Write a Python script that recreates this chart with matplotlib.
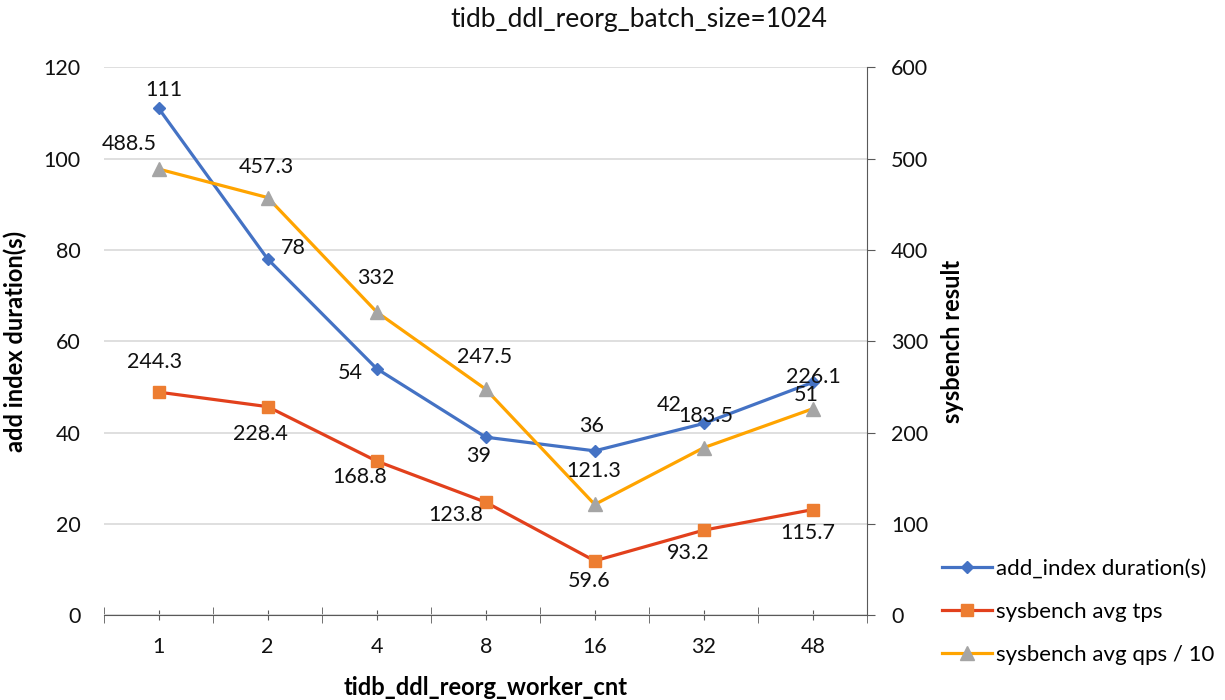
import matplotlib.pyplot as plt
import numpy as np

plt.rcParams['font.family'] = ['Lato', 'DejaVu Sans']

# worker counts and measured results
workers = ['1', '2', '4', '8', '16', '32', '48']
add_index_duration = [111, 78, 54, 39, 36, 42, 51]
avg_tps = [244.3, 228.4, 168.8, 123.8, 59.6, 93.2, 115.7]
avg_qps_div10 = [488.5, 457.3, 332, 247.5, 121.3, 183.5, 226.1]

# label offsets (pixels) for each point
dur_off = [(5, 18), (26, 11), (-26, -4), (-7, -19), (-3, 25), (-35, 18), (-7, -13)]
tps_off = [(-4, 30), (-7, -27), (-17, -16), (-30, -13), (-6, -20), (-16, -23), (-5, -23)]
qps_off = [(-29, 25), (-1, 31), (-1, 34), (-1, 32), (-1, 33), (2, 32), (1, 32)]

x = np.arange(len(workers))

fig = plt.figure(figsize=(12.25, 7), dpi=100)
ax = fig.add_axes([0.085, 0.121, 0.623, 0.783])
ax2 = ax.twinx()

blue = '#4472C4'
red = '#E2401C'
orange = '#ED7D31'
gold = '#FFA400'
gray = '#A5A5A5'

l1, = ax.plot(x, add_index_duration, color=blue, lw=2.3, marker='D', ms=6.5,
              label='add_index duration(s)', zorder=3)
l2, = ax2.plot(x, avg_tps, color=red, lw=2.3, marker='s', ms=9,
               mfc=orange, mec=orange, label='sysbench avg tps', zorder=3)
l3, = ax2.plot(x, avg_qps_div10, color=gold, lw=2.3, marker='^', ms=9.5,
               mfc=gray, mec=gray, label='sysbench avg qps / 10', zorder=3)

fs = 15.5
for xi, v, off in zip(x, add_index_duration, dur_off):
    ax.annotate(f'{v:g}', (xi, v), xytext=off, textcoords='offset pixels',
                ha='center', va='center', fontsize=fs, color='#111111')
for xi, v, off in zip(x, avg_tps, tps_off):
    ax2.annotate(f'{v:g}', (xi, v), xytext=off, textcoords='offset pixels',
                 ha='center', va='center', fontsize=fs, color='#111111')
for xi, v, off in zip(x, avg_qps_div10, qps_off):
    ax2.annotate(f'{v:g}', (xi, v), xytext=off, textcoords='offset pixels',
                 ha='center', va='center', fontsize=fs, color='#111111')

ax.set_xlim(-0.5, len(workers) - 0.5)
ax.set_ylim(0, 120)
ax.set_yticks(np.arange(0, 121, 20))
ax2.set_ylim(0, 600)
ax2.set_yticks(np.arange(0, 601, 100))
ax.set_xticks(x)
ax.set_xticklabels(workers)
ax.xaxis.set_minor_locator(plt.FixedLocator(np.arange(-0.5, len(workers), 1)))

ax.grid(axis='y', color='#D9D9D9', lw=1.2)
ax.set_axisbelow(True)

for a in (ax, ax2):
    for s in ('top', 'left', 'right'):
        a.spines[s].set_visible(False)
ax.spines['bottom'].set_color('#595959')
ax2.spines['bottom'].set_visible(False)
ax2.spines['right'].set_visible(True)
ax2.spines['right'].set_color('#595959')

ax.tick_params(axis='y', length=0, labelsize=fs, pad=17, colors='#111111')
ax.tick_params(axis='x', which='major', length=7, direction='inout', color='#595959',
               labelsize=fs, pad=12, labelcolor='#111111')
ax.tick_params(axis='x', which='minor', length=11, color='#595959', direction='inout')
ax2.tick_params(axis='y', length=6, direction='out', labelsize=fs, pad=11,
                color='#595959', labelcolor='#111111')

ax.set_xlabel('tidb_ddl_reorg_worker_cnt', fontsize=17, fontweight='bold', labelpad=14)
ax.set_ylabel('add index duration(s)', fontsize=17, fontweight='bold', labelpad=12)
ax2.set_ylabel('sysbench result', fontsize=17, fontweight='bold', labelpad=9)

fig.text(0.5216, 0.972, 'tidb_ddl_reorg_batch_size=1024', ha='center', va='center',
         fontsize=19, color='#111111')

fig.legend(handles=[l1, l2, l3], loc='lower left', bbox_to_anchor=(0.769, 0.05),
           frameon=False, fontsize=16, handlelength=2.25, labelspacing=1.05,
           handletextpad=0.2, borderpad=0, borderaxespad=0)

fig.savefig('out.png', dpi=100)
